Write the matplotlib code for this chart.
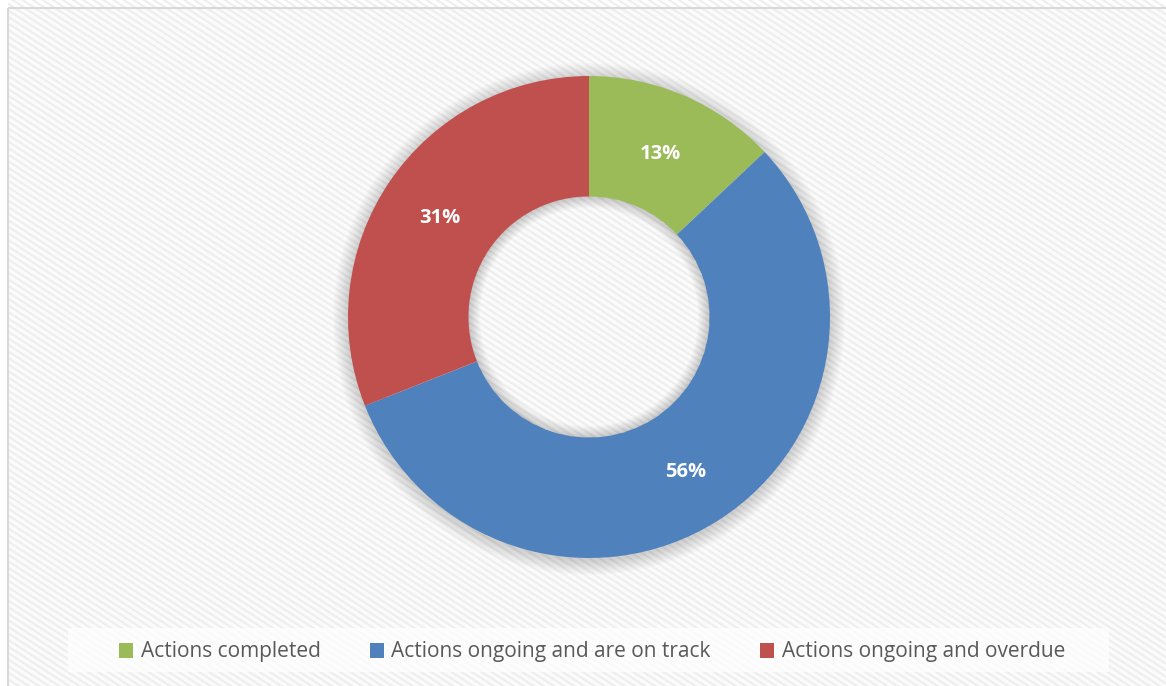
import matplotlib
matplotlib.use("Agg")
import matplotlib.pyplot as plt
from matplotlib.patches import Rectangle, Patch, Wedge
import matplotlib.transforms as mtransforms
import numpy as np

categories = ["Actions completed", "Actions ongoing and are on track", "Actions ongoing and overdue"]
values = [13, 56, 31]
colors = ["#9BBB59", "#4F81BD", "#C0504D"]

W, H = 1166, 686
fig = plt.figure(figsize=(W / 100, H / 100), dpi=100)
fig.patch.set_facecolor("white")

# background with diagonal stripe texture
bg = fig.add_axes([0, 0, 1, 1])
bg.set_xlim(0, W); bg.set_ylim(H, 0); bg.axis("off")
bg.add_patch(Rectangle((8, 8), W + 10, H + 10, facecolor="#fbfbfb", edgecolor="none", zorder=0))
ang = np.deg2rad(33)
step = 5.5 / np.cos(ang)
xs = np.array([8, W])
for y0 in np.arange(8 - W * np.tan(ang), H + 10, step):
    ys = y0 + xs * np.tan(ang)
    bg.plot(xs, ys, color="#eeeeee", lw=1.5, solid_capstyle="butt", zorder=0.5)
bg.set_xlim(0, W); bg.set_ylim(H, 0)
bg.add_patch(Rectangle((8, 8), W + 10, H + 10, facecolor="none", edgecolor="#d9d9d9",
                       linewidth=1.5, zorder=1))
# legend box
bg.add_patch(Rectangle((68, 628), 1041, 44, facecolor="white", alpha=0.75, edgecolor="none", zorder=1))

cx, cy, R = 589, 317, 241
ax = fig.add_axes([(cx - R - 30) / W, (H - cy - R - 30) / H, (2 * R + 60) / W, (2 * R + 60) / H])
lim = (R + 30) / R
ax.set_xlim(-lim, lim); ax.set_ylim(-lim, lim); ax.axis("off")

# soft outer shadow
n = 14
for i in range(n):
    r = 1.0 + (n - i) * 0.0045
    ax.add_patch(Wedge((0.0, -0.008), r, 0, 360, width=r - 0.9,
                       facecolor="black", alpha=0.012, edgecolor="none", zorder=0))

wedges, texts, autotexts = ax.pie(values, colors=colors, startangle=90, counterclock=False,
                                  radius=1.0, autopct="%d%%", pctdistance=0.75,
                                  wedgeprops=dict(width=0.5, edgecolor="none"),
                                  textprops=dict(color="white", fontsize=14.5, fontweight="bold",
                                                 family="Open Sans"))
shift = mtransforms.ScaledTranslation(0, -2.5 / 100, fig.dpi_scale_trans)
for t in autotexts:
    t.set_zorder(5)
    t.set_transform(t.get_transform() + shift)
# inner shadow of the hole
m = 12
for i in range(m):
    ax.add_patch(Wedge((0, 0), 0.5, 0, 360, width=0.004 * (i + 1),
                       facecolor="black", alpha=0.014, edgecolor="none", zorder=3))
ax.set_xlim(-lim, lim); ax.set_ylim(-lim, lim)

handles = [Patch(facecolor=c, edgecolor="none") for c in colors]
leg = fig.legend(handles, categories, loc="center", bbox_to_anchor=(592 / W, 1 - 652 / H), ncol=3,
                 frameon=False, handlelength=0.7, handleheight=0.7, handletextpad=0.35,
                 columnspacing=2.35, prop=dict(family="Open Sans", size=15))
for t in leg.get_texts():
    t.set_color("#595959")

fig.savefig("out.png", dpi=100)
